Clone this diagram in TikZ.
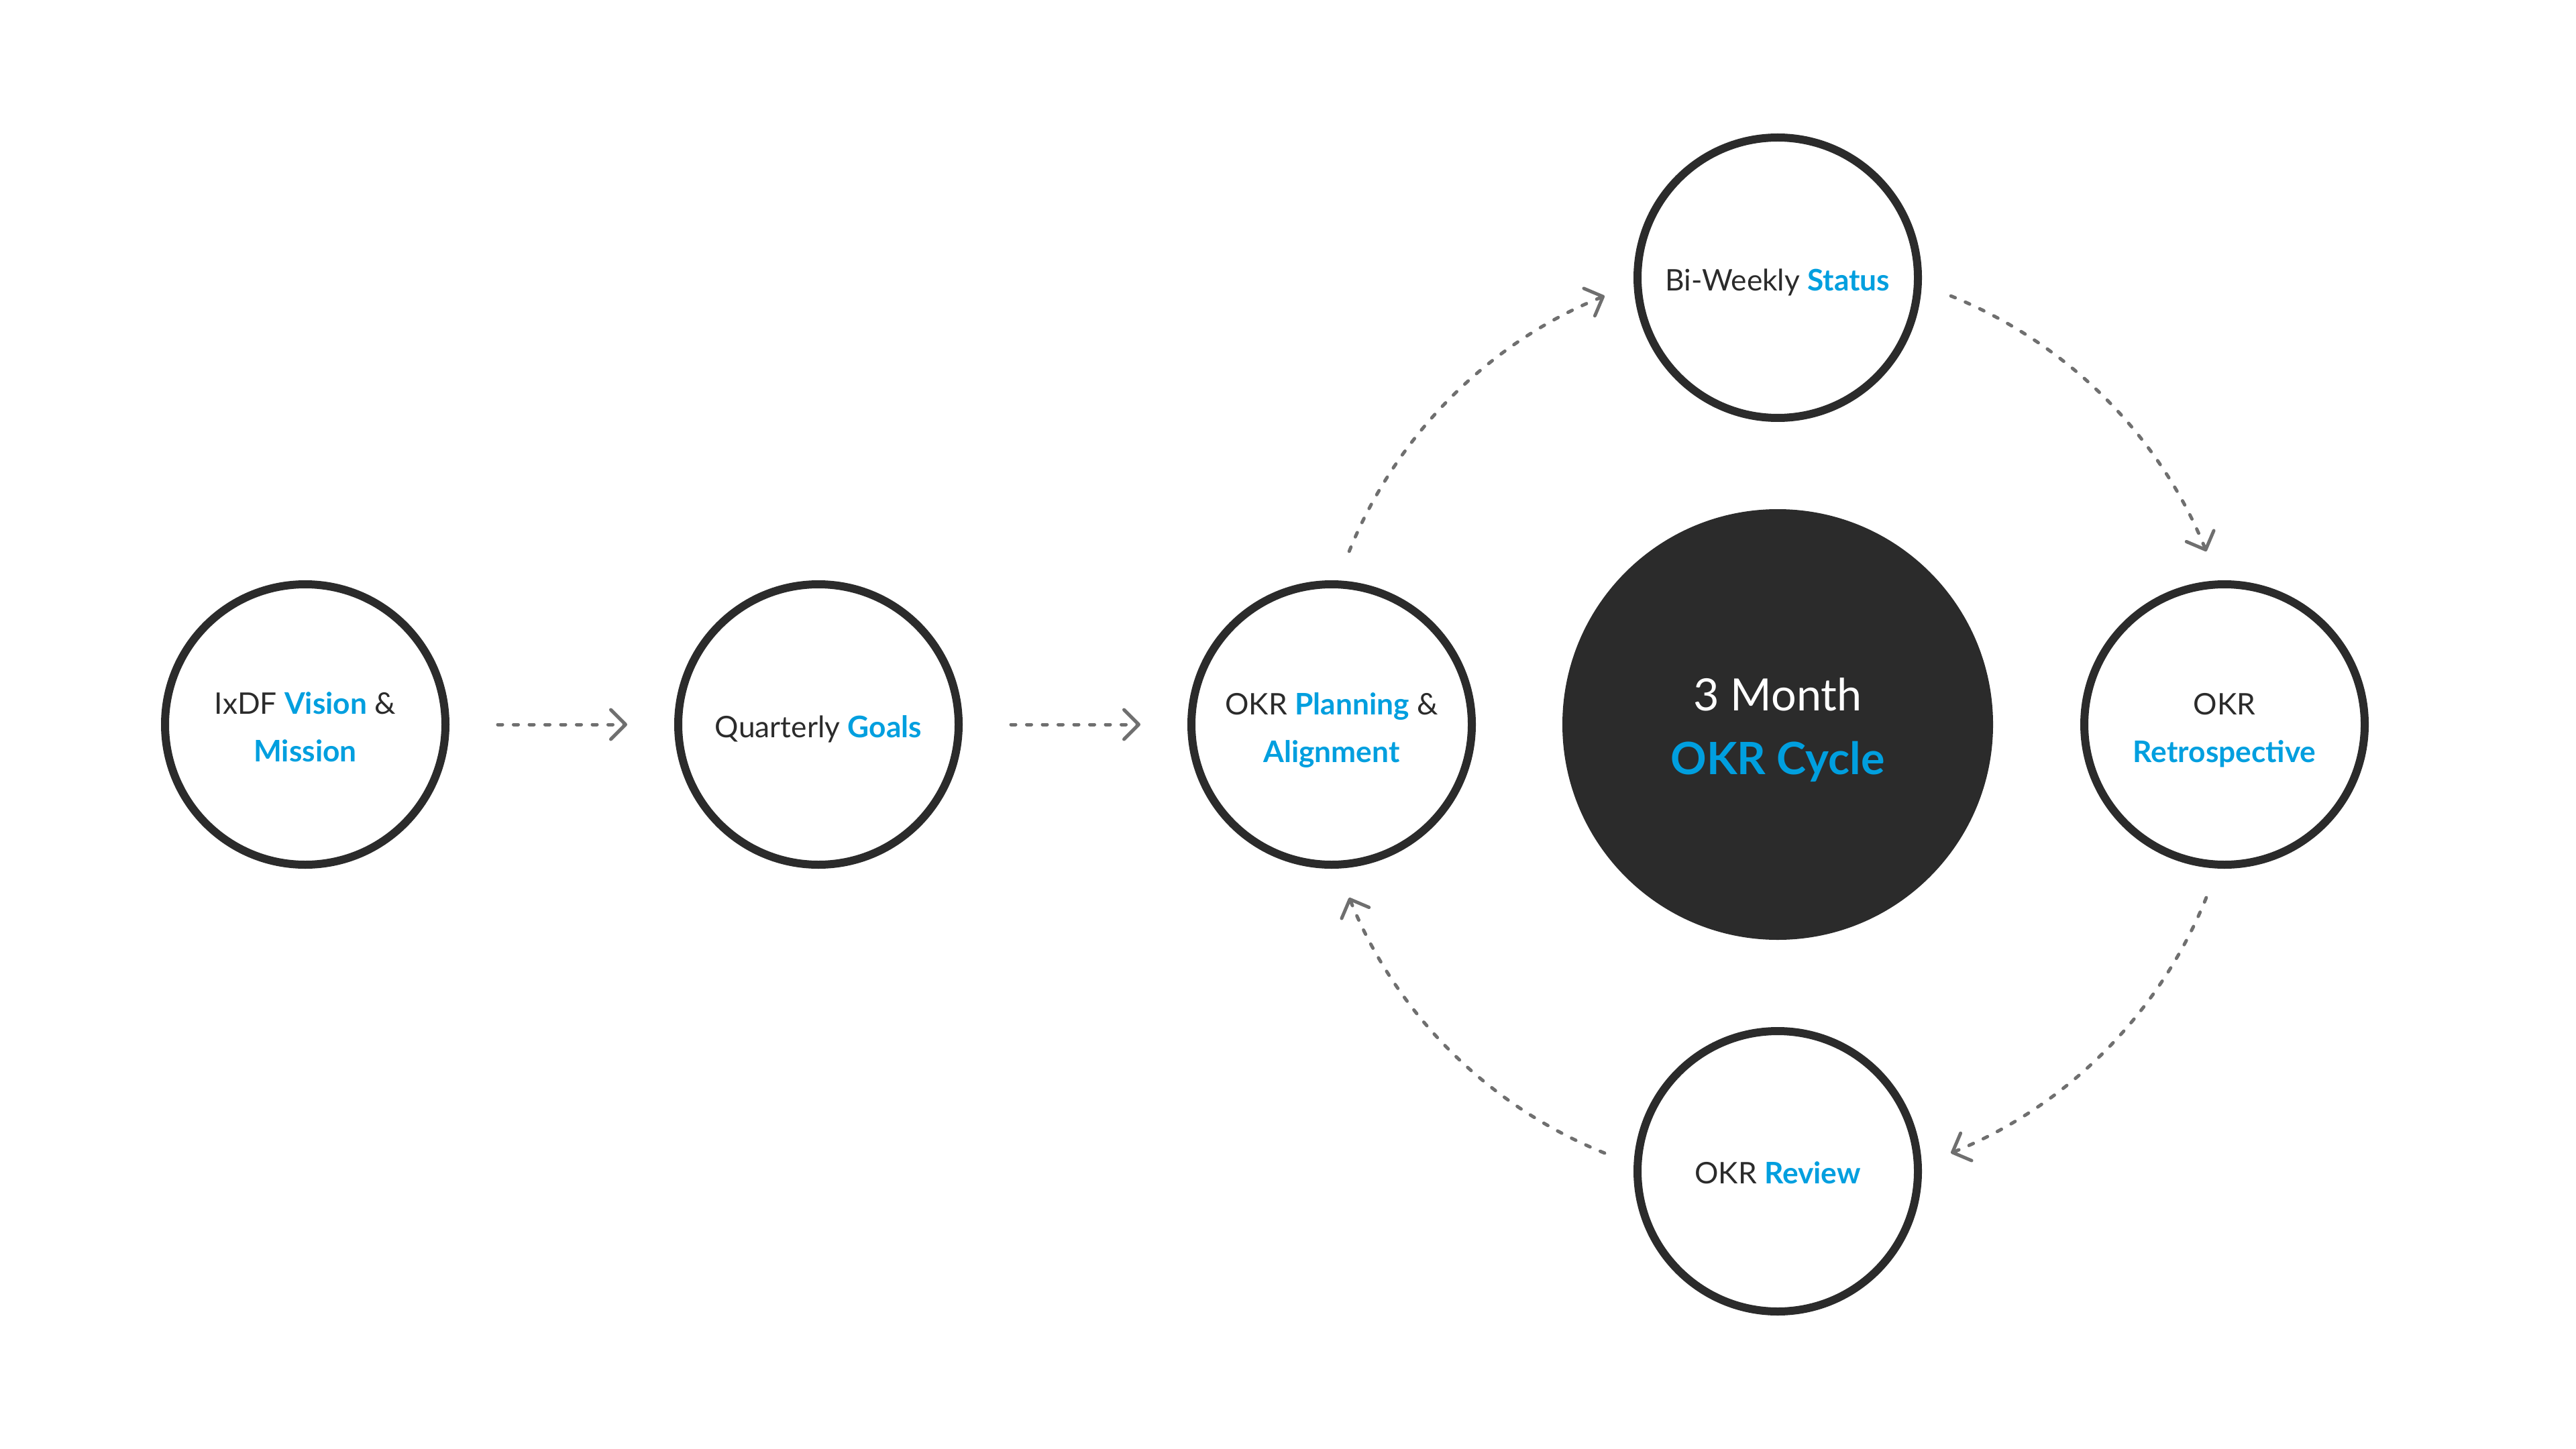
\documentclass[tikz,border=0pt]{standalone}
\usepackage{fontspec}
\setmainfont{Lato}
\usetikzlibrary{arrows.meta}
\definecolor{ink}{HTML}{2B2B2B}
\definecolor{accent}{HTML}{009FDF}
\definecolor{arrowgray}{HTML}{6F6F6F}
\newcommand{\hl}[1]{\textbf{\textcolor{accent}{#1}}}
\newcommand{\lowtxt}[2]{\raisebox{-#1}[\height][\depth]{\begin{tabular}{@{}c@{}}#2\end{tabular}}}
\begin{document}
\begin{tikzpicture}[
  ring/.style={circle, draw=ink, line width=0.12cm, fill=white, minimum size=4.18cm,
    inner sep=0pt, outer sep=0pt, text=ink,
    font=\fontsize{12.6}{20.2}\selectfont},
  hub/.style={circle, fill=ink, minimum size=6.42cm, inner sep=0pt, outer sep=0pt,
    text=white, font=\fontsize{18.9}{27}\selectfont},
  flow/.style={draw=arrowgray, line width=0.05cm, line cap=round,
    dash pattern=on 0.07cm off 0.165cm,
    -{Straight Barb[length=0.22cm, width=0.44cm, round]}}
]
\useasboundingbox (0,0) rectangle (38.4,-21.6);

\node[ring] (vision) at (4.55,-10.80) {\lowtxt{0.06cm}{IxDF \hl{Vision} \&\\\hl{Mission}}};
\node[ring] (goals)  at (12.20,-10.80) {\lowtxt{0.05cm}{Quarterly \hl{Goals}}};
\node[ring] (plan)   at (19.85,-10.80) {\lowtxt{0.07cm}{OKR \hl{Planning} \&\\\hl{Alignment}}};
\node[hub]  (hub)    at (26.50,-10.80) {\lowtxt{0.08cm}{3 Month\\\textcolor{accent}{\textbf{OKR Cycle}}}};
\node[ring] (status) at (26.50,-4.14) {\lowtxt{0.05cm}{Bi-Weekly \hl{Status}}};
\node[ring] (retro)  at (33.16,-10.80) {\lowtxt{0.07cm}{OKR\\\hl{Retrospective}}};
\node[ring] (review) at (26.50,-17.46) {\lowtxt{0.04cm}{OKR \hl{Review}}};

\draw[flow] ([xshift=0.78cm]vision.east) -- ([xshift=-0.76cm]goals.west);
\draw[flow] ([xshift=0.78cm]goals.east) -- ([xshift=-0.76cm]plan.west);

\draw[flow] ([shift={(158:6.89)}]hub.center) arc[start angle=158, end angle=112, radius=6.89];
\draw[flow] ([shift={(68:6.89)}]hub.center) arc[start angle=68, end angle=22, radius=6.89];
\draw[flow] ([shift={(-22:6.89)}]hub.center) arc[start angle=-22, end angle=-68, radius=6.89];
\draw[flow] ([shift={(248:6.89)}]hub.center) arc[start angle=248, end angle=202, radius=6.89];
\end{tikzpicture}
\end{document}
